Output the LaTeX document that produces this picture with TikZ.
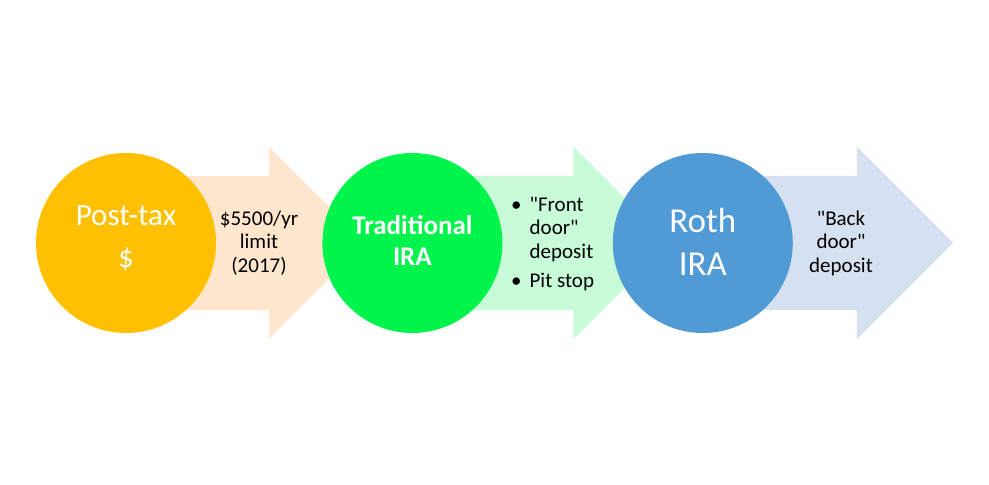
\documentclass[tikz,border=0pt]{standalone}
\usepackage{fontspec}
\setmainfont{Carlito}[Ligatures=TeXOff]
\usetikzlibrary{positioning, shapes.arrows, backgrounds}
\definecolor{taxorange}{HTML}{FFC000}
\definecolor{taxpeach}{HTML}{FFE6CC}
\definecolor{tradgreen}{HTML}{00F44C}
\definecolor{tradmint}{HTML}{C8FBD8}
\definecolor{rothblue}{HTML}{509AD6}
\definecolor{rothmist}{HTML}{D5E0F0}

\begin{document}
\begin{tikzpicture}[x=1pt, y=1pt,
  bubble/.style={circle, minimum size=180pt, inner sep=0pt},
  bubbletext/.style={text=white, align=center, inner sep=0pt},
  flowarrow/.style={single arrow, single arrow head extend=29pt,
    single arrow tip angle=90, inner xsep=0pt, inner ysep=67pt, anchor=tail},
  arrowtext/.style={text=black, align=center, inner sep=0pt,
    font={\fontsize{21}{23.5}\selectfont}}]
  \useasboundingbox (0,0) rectangle (989,485);
  % the three accounts
  \node[bubble, fill=taxorange] (post) at (126,242) {};
  \node[bubble, fill=tradgreen, right=106pt of post] (trad) {};
  \node[bubble, fill=rothblue, right=110pt of trad] (roth) {};
  % arrows behind them
  \begin{scope}[on background layer]
    \node[flowarrow, fill=taxpeach, minimum height=239pt] (limit) at (post.center) {};
    \node[flowarrow, fill=tradmint, minimum height=257pt] (front) at (trad.center) {};
    \node[flowarrow, fill=rothmist, minimum height=250pt] (back) at (roth.center) {};
  \end{scope}
  \node[bubbletext, font={\fontsize{31}{42}\selectfont}, yshift=5pt] (posttxt) at (post) {Post-tax\\\$};
  \node[bubbletext, font={\fontsize{27}{31}\selectfont\bfseries}, yshift=2pt] (tradtxt) at (trad) {Traditional\\IRA};
  \node[bubbletext, font={\fontsize{35}{43}\selectfont}, yshift=1pt] (rothtxt) at (roth) {Roth\\IRA};
  % what each arrow says
  \node[arrowtext] (limittxt) at (259,242) {\$5500/yr\\limit\\(2017)};
  \node[arrowtext, anchor=west] (fronttxt) at (511,240) {%
    \begin{tabular}{@{}l@{\hspace{8pt}}l@{}}
      \textbullet & "Front\\
                  & door"\\
                  & deposit\\[6pt]
      \textbullet & Pit stop
    \end{tabular}};
  \node[arrowtext] (backtxt) at (841,242) {"Back\\door"\\deposit};
\end{tikzpicture}
\end{document}
